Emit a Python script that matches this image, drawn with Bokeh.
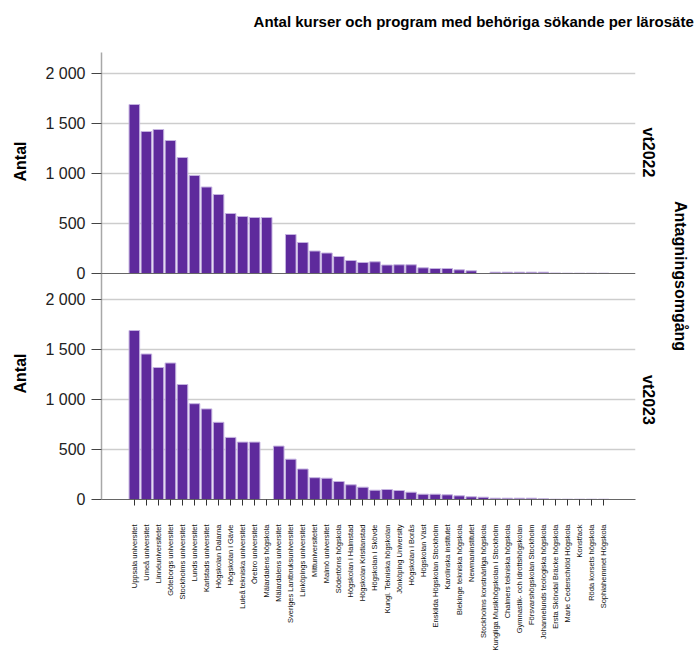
from math import pi
from bokeh.plotting import figure
from bokeh.models import (Range1d, LinearAxis, FixedTicker, Span, Grid,
                          ColumnDataSource, Title)
from bokeh.embed import file_html
from bokeh.resources import INLINE

institutions = [
    "Uppsala universitet", "Umeå universitet", "Linnéuniversitetet",
    "Göteborgs universitet", "Stockholms universitet", "Lunds universitet",
    "Karlstads universitet", "Högskolan Dalarna", "Högskolan i Gävle",
    "Luleå tekniska universitet", "Örebro universitet", "Mälardalens högskola",
    "Mälardalens universitet", "Sveriges Lantbruksuniversitet",
    "Linköpings universitet", "Mittuniversitetet", "Malmö universitet",
    "Södertörns högskola", "Högskolan i Halmstad", "Högskolan Kristianstad",
    "Högskolan i Skövde", "Kungl. Tekniska högskolan", "Jönköping University",
    "Högskolan i Borås", "Högskolan Väst", "Enskilda Högskolan Stockholm",
    "Karolinska institutet", "Blekinge tekniska högskola", "Newmaninstitutet",
    "Stockholms konstnärliga högskola", "Kungliga Musikhögskolan i Stockholm",
    "Chalmers tekniska högskola", "Gymnastik- och idrottshögskolan",
    "Försvarshögskolan Stockholm", "Johannelunds teologiska högskola",
    "Ersta Sköndal Bräcke högskola", "Marie Cederschiöld Högskola",
    "Konstfack", "Röda korsets högskola", "Sophiahemmet Högskola",
]

vt2022 = [1690, 1420, 1440, 1330, 1160, 980, 865, 790, 600, 570, 560, 560,
          0, 390, 310, 225, 205, 170, 130, 110, 117, 85, 87, 87, 57, 50,
          50, 37, 27, 0, 13, 13, 13, 13, 13, 5, 3, 3, 3, 3]

vt2023 = [1690, 1455, 1320, 1365, 1150, 958, 906, 772, 621, 574, 574, 0,
          534, 403, 305, 218, 213, 180, 147, 123, 93, 100, 90, 73, 53, 53,
          47, 37, 27, 23, 13, 13, 13, 13, 7, 3, 3, 3, 3, 3]

rounds = ["vt2022", "vt2023"]
y_ticks = [0, 500, 1000, 1500, 2000]
y_tick_labels = ["0", "500", "1 000", "1 500", "2 000"]

title_text = "Antal kurser och program med behöriga sökande per lärosäte"
y_label = "Antal"
facet_label = "Antagningsomgång"

# ---- layout constants (positions in the frame's data units) ----
FONT = "Liberation Sans"
SPAN = 4470      # data units covered by the full frame height
SHIFT = 2260     # data units between the lower panel's zero and the upper panel's zero
BAR = "#5e2a9c"
ANTAL_POS = [3580, 1460]      # upper / lower panel "Antal"
ROUND_POS = [3720, 1245]      # vt2022 / vt2023
TITLE_POS = 28.2              # horizontal centre of the title

idx = list(range(len(institutions)))

p = figure(width=694, height=668, output_backend="svg", toolbar_location=None,
           x_range=Range1d(-2.73, 41.65), y_range=Range1d(0, SPAN),
           x_axis_type=None, y_axis_type=None,
           min_border_left=98, min_border_right=59, min_border_top=52,
           min_border_bottom=169)
p.extra_y_ranges = {"top": Range1d(-SHIFT, SPAN - SHIFT)}
p.outline_line_color = None
p.background_fill_color = "white"
p.border_fill_color = "white"

# grid lines for both panels
grid_ticks = [t for t in y_ticks if t > 0] + [t + SHIFT for t in y_ticks if t > 0]
p.add_layout(Grid(dimension=1, ticker=FixedTicker(ticks=grid_ticks),
                  grid_line_color="#cdcdcd", grid_line_width=1.5))

# bars
src_top = ColumnDataSource(dict(x=idx, v=vt2022))
src_bot = ColumnDataSource(dict(x=idx, v=vt2023))
p.vbar(x="x", top="v", bottom=0, width=0.88, source=src_top, y_range_name="top",
       fill_color=BAR, line_color="#c4b2e0", line_width=1)
p.vbar(x="x", top="v", bottom=0, width=0.88, source=src_bot,
       fill_color=BAR, line_color="#c4b2e0", line_width=1)

# upper panel baseline
p.add_layout(Span(location=SHIFT, dimension="width", line_color="#666666",
                  line_width=1.2))


def text_axis(ticks, labels, orientation, standoff, size="16px"):
    ax = LinearAxis(ticker=FixedTicker(ticks=ticks),
                    major_label_overrides=dict(zip(ticks, labels)))
    ax.axis_line_color = None
    ax.major_tick_line_color = None
    ax.minor_tick_line_color = None
    ax.major_tick_out = 0
    ax.major_tick_in = 0
    ax.major_label_orientation = orientation
    ax.major_label_standoff = standoff
    ax.major_label_text_font = FONT
    ax.major_label_text_font_size = size
    ax.major_label_text_font_style = "bold"
    ax.major_label_text_color = "#000000"
    return ax


# chart title (above the frame)
p.add_layout(text_axis([TITLE_POS], [title_text], "horizontal", 23, size="15px"), "above")

# y axis covering both panels
yticks_all = list(y_ticks) + [t + SHIFT for t in y_ticks]
overrides = {}
for t, lab in zip(y_ticks, y_tick_labels):
    overrides[t] = lab
    overrides[t + SHIFT] = lab
yax = LinearAxis(ticker=FixedTicker(ticks=yticks_all), major_label_overrides=overrides)
yax.axis_line_color = "#a8a8a8"
yax.axis_line_width = 1.5
yax.major_tick_line_color = "#444444"
yax.major_tick_out = 10
yax.major_tick_in = 0
yax.minor_tick_line_color = None
yax.major_label_standoff = 6
yax.major_label_text_font = FONT
yax.major_label_text_font_size = "16px"
yax.major_label_text_color = "#222222"
p.add_layout(yax, "left")

# "Antal" for each panel (outer left)
p.add_layout(text_axis(ANTAL_POS, [y_label, y_label], pi / 2, 22), "left")

# facet labels on the right
p.add_layout(text_axis(ROUND_POS, rounds, -pi / 2, 13), "right")

# facet title (outermost on the right)
p.add_layout(Title(text=facet_label, align="center", vertical_align="middle",
                   offset=-10, standoff=4, text_font=FONT,
                   text_font_size="16px", text_font_style="bold",
                   text_color="#000000"), "right")

# x axis
xax = LinearAxis(ticker=FixedTicker(ticks=idx),
                 major_label_overrides={i: n for i, n in zip(idx, institutions)})
xax.axis_line_color = "#666666"
xax.axis_line_width = 1.2
xax.major_tick_line_color = "#333333"
xax.major_tick_out = 6
xax.major_tick_in = 0
xax.minor_tick_line_color = None
xax.major_label_orientation = pi / 2
xax.major_label_standoff = 19
xax.major_label_text_font = FONT
xax.major_label_text_font_size = "7.5px"
xax.major_label_text_color = "#111111"
p.add_layout(xax, "below")

open("out.html", "w").write(file_html(p, INLINE))
